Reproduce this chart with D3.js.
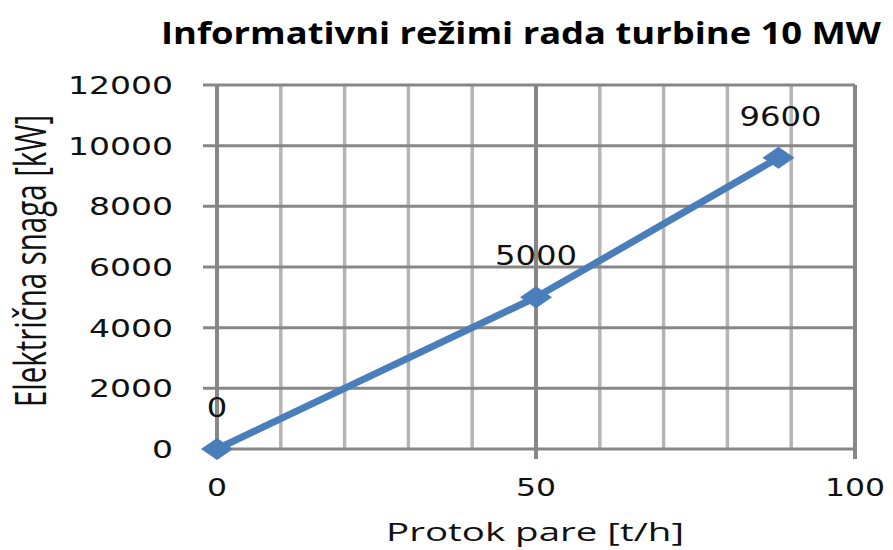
<!DOCTYPE html>
<html>
<head>
<meta charset="utf-8">
<script src="https://cdn.jsdelivr.net/npm/d3@7"></script>
<style>
  body { margin: 0; background: #fff; }
  svg { display: block; }
</style>
</head>
<body>
<svg id="chart" width="893" height="550"></svg>
<script>
// Chart data
const flow = [0, 50, 88];          // Protok pare [t/h]
const power = [0, 5000, 9600];     // Električna snaga [kW]
const xTicks = [0, 50, 100];
const xGrid = [0, 10, 20, 30, 40, 50, 60, 70, 80, 90, 100];
const yTicks = [0, 2000, 4000, 6000, 8000, 10000, 12000];

const titleText = "Informativni režimi rada turbine 10 MW";
const xTitle = "Protok pare [t/h]";
const yTitle = "Električna snaga [kW]";

const svg = d3.select("#chart");
const SX = 1.4; // the source image is stretched horizontally

const x = d3.scaleLinear().domain([0, 100]).range([217, 855]);
const y = d3.scaleLinear().domain([0, 12000]).range([449, 85]);

// vertical gridlines (minor light, major darker)
svg.append("g")
    .selectAll("line")
    .data(xGrid.filter(d => d % 50 !== 0))
    .join("line")
    .attr("x1", d => x(d)).attr("x2", d => x(d))
    .attr("y1", y(12000)).attr("y2", y(0))
    .attr("stroke", "#b5b5b5")
    .attr("stroke-width", 3.5);

// horizontal gridlines
svg.append("g")
    .selectAll("line")
    .data(yTicks)
    .join("line")
    .attr("x1", 203).attr("x2", x(100))
    .attr("y1", d => y(d)).attr("y2", d => y(d))
    .attr("stroke", "#878787")
    .attr("stroke-width", 3);

// major vertical lines + ticks below axis
svg.append("g")
    .selectAll("line")
    .data(xTicks)
    .join("line")
    .attr("x1", d => x(d)).attr("x2", d => x(d))
    .attr("y1", y(12000)).attr("y2", y(0) + 10)
    .attr("stroke", "#878787")
    .attr("stroke-width", 4);

// tick labels
function label(sel, px, py, txt, size, len, anchor) {
    sel.append("text")
        .attr("x", px).attr("y", py)
        .attr("text-anchor", anchor)
        .attr("font-family", "DejaVu Sans, Verdana, sans-serif")
        .attr("font-size", size)
        .attr("fill", "#111")
        .attr("textLength", len)
        .attr("lengthAdjust", "spacingAndGlyphs")
        .text(txt);
}

const yLab = svg.append("g");
yTicks.forEach(d => label(yLab, 173, y(d) + 9, String(d), 25, String(d).length * 21, "end"));

const xLab = svg.append("g");
xTicks.forEach(d => label(xLab, x(d), 496, String(d), 25, String(d).length * 20, "middle"));

// series line
const pts = flow.map((f, i) => [f, power[i]]);
svg.append("path")
    .datum(pts)
    .attr("fill", "none")
    .attr("stroke", "#4a7ebb")
    .attr("stroke-width", 7)
    .attr("stroke-linejoin", "round")
    .attr("d", d3.line().x(d => x(d[0])).y(d => y(d[1])));

// diamond markers
svg.append("g")
    .selectAll("path")
    .data(pts)
    .join("path")
    .attr("transform", d => `translate(${x(d[0])},${y(d[1])})`)
    .attr("d", "M0,-11L16,0L0,11L-16,0Z")
    .attr("fill", "#4a7ebb");

// data labels
const dLab = svg.append("g");
pts.forEach(d => {
    const t = String(d[1]);
    label(dLab, x(d[0]) + (d[0] > 80 ? 2 : 0), y(d[1]) - 32, t, 27, t.length * 20.5, "middle");
});

// title
svg.append("text")
    .attr("x", 521).attr("y", 44)
    .attr("text-anchor", "middle")
    .attr("font-family", "Open Sans, sans-serif")
    .attr("font-weight", "bold")
    .attr("font-size", 30)
    .attr("fill", "#000")
    .attr("textLength", 720)
    .attr("lengthAdjust", "spacingAndGlyphs")
    .text(titleText);

// axis titles
svg.append("text")
    .attr("x", 535).attr("y", 541)
    .attr("text-anchor", "middle")
    .attr("font-family", "Open Sans, sans-serif")
    .attr("font-size", 25)
    .attr("fill", "#111")
    .attr("textLength", 298)
    .attr("lengthAdjust", "spacingAndGlyphs")
    .text(xTitle);

svg.append("g")
    .attr("transform", `translate(46,261) scale(${SX},1) rotate(-90)`)
    .append("text")
    .attr("text-anchor", "middle")
    .attr("font-family", "Open Sans, sans-serif")
    .attr("font-size", 31)
    .attr("fill", "#111")
    .attr("textLength", 292)
    .attr("lengthAdjust", "spacingAndGlyphs")
    .text(yTitle);
</script>
</body>
</html>
